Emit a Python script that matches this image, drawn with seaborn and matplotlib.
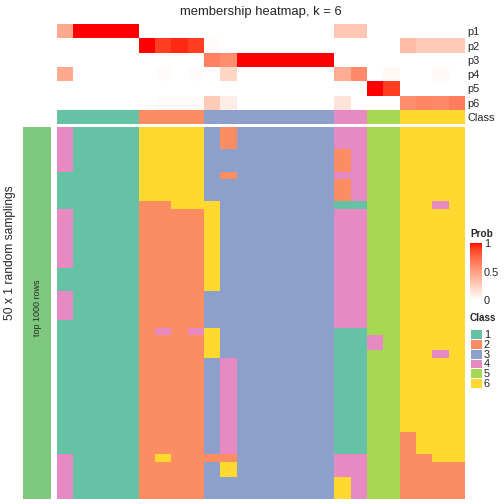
import numpy as np
import pandas as pd
import matplotlib
matplotlib.use("Agg")
import matplotlib.pyplot as plt
from matplotlib.colors import ListedColormap
import seaborn as sns

sns.set_style("white")
plt.rcParams['font.family'] = ['Liberation Sans', 'DejaVu Sans']

# ---------------- data ----------------
samples = [f"s{i+1}" for i in range(25)]
prob_rows = ["p1", "p2", "p3", "p4", "p5", "p6"]
p1 = [0.45, 1, 1, 1, 1, 0, 0, 0, 0, 0, 0, 0, 0, 0, 0, 0, 0, 0.3, 0.3, 0, 0, 0, 0, 0, 0]
p2 = [0, 0, 0, 0, 0, 1, 0.9, 0.95, 0.9, 0.02, 0, 0, 0, 0, 0, 0, 0, 0, 0, 0, 0, 0.35, 0.28, 0.28, 0.28]
p3 = [0, 0, 0, 0, 0, 0, 0, 0, 0, 0.64, 0.58, 1, 1, 1, 1, 1, 1, 0, 0, 0, 0, 0, 0, 0, 0]
p4 = [0.45, 0, 0, 0, 0, 0, 0.02, 0, 0.02, 0, 0.22, 0, 0, 0, 0, 0, 0, 0.43, 0.6, 0, 0.04, 0, 0, 0.03, 0]
p5 = [0, 0, 0, 0, 0, 0, 0, 0, 0, 0, 0, 0, 0, 0, 0, 0, 0, 0, 0, 1, 0.9, 0, 0, 0, 0]
p6 = [0, 0, 0, 0, 0, 0, 0.02, 0.02, 0.02, 0.28, 0.1, 0, 0, 0, 0, 0, 0, 0.15, 0, 0, 0, 0.58, 0.62, 0.6, 0.66]
sample_class = [1, 1, 1, 1, 1, 2, 2, 2, 2, 3, 3, 3, 3, 3, 3, 3, 3, 4, 4, 5, 5, 6, 6, 6, 6]
class_labels = ["1", "2", "3", "4", "5", "6"]

# class assignment in each of the 50 random samplings (one digit per sample)
samplings = [
    "4111166663233333344556666",
    "4111166663233333344556666",
    "4111166663233333344556666",
    "4111166663333333324556666",
    "4111166663333333324556666",
    "4111166663333333324556666",
    "1111166663233333344556666",
    "1111166663333333324556666",
    "1111166663333333324556666",
    "1111166663333333324556666",
    "1111122666333333311556646",
    "4111122226333333344556666",
    "4111122226333333344556666",
    "4111122226333333344556666",
    "4111122226333333344556666",
    "4111122226333333344556666",
    "4111122226333333344556666",
    "4111122226333333344556666",
    "4111122226333333344556666",
    "1111122226333333344556666",
    "1111122226333333344556666",
    "1111122226333333344556666",
    "4111122223333333344556666",
    "4111122223333333344556666",
    "4111122223333333344556666",
    "4111122223333333344556666",
    "1111122223333333344556666",
    "1111124246333333311556666",
    "1111122226333333311456666",
    "1111122226333333311456666",
    "1111122226333333311556646",
    "1111122223433333311556666",
    "1111122223433333311556666",
    "1111122223433333311556666",
    "1111122223433333311556666",
    "1111122223433333311556666",
    "1111122223433333311556666",
    "1111122223433333311556666",
    "1111122223433333311556666",
    "1111122223433333311556666",
    "1111122223433333311556666",
    "1111122223433333311552666",
    "1111122223433333311552666",
    "1111122223433333311552666",
    "4111126222233333344552266",
    "4111122223633333344552222",
    "4111122223633333344552222",
    "4111122223333333364552222",
    "4111122223333333364552222",
    "4111122223333333364552222",
]

# ---------------- colours ----------------
class_colors = ["#66C2A5", "#FC8D62", "#8DA0CB", "#E78AC3", "#A6D854", "#FFD92F"]
class_cmap = ListedColormap(class_colors)
bar_color = "#7FC97F"


def srgb_to_lab(rgb):
    rgb = np.asarray(rgb, float)
    lin = np.where(rgb <= 0.04045, rgb / 12.92, ((rgb + 0.055) / 1.055) ** 2.4)
    M = np.array([[0.4124, 0.3576, 0.1805], [0.2126, 0.7152, 0.0722], [0.0193, 0.1192, 0.9505]])
    xyz = M @ lin / np.array([0.95047, 1.0, 1.08883])
    f = np.where(xyz > 0.008856, np.cbrt(xyz), 7.787 * xyz + 16 / 116)
    return np.array([116 * f[1] - 16, 500 * (f[0] - f[1]), 200 * (f[1] - f[2])])


def lab_to_srgb(lab):
    L, a, b = lab
    fy = (L + 16) / 116
    fx = fy + a / 500
    fz = fy - b / 200
    f = np.array([fx, fy, fz])
    xyz = np.where(f ** 3 > 0.008856, f ** 3, (f - 16 / 116) / 7.787) * np.array([0.95047, 1.0, 1.08883])
    Mi = np.array([[3.2406, -1.5372, -0.4986], [-0.9689, 1.8758, 0.0415], [0.0557, -0.2040, 1.0570]])
    lin = np.clip(Mi @ xyz, 0, 1)
    return np.where(lin <= 0.0031308, 12.92 * lin, 1.055 * lin ** (1 / 2.4) - 0.055)


w_lab = srgb_to_lab([1, 1, 1])
r_lab = srgb_to_lab([1, 0, 0])
prob_cmap = ListedColormap([np.clip(lab_to_srgb(w_lab + t * (r_lab - w_lab)), 0, 1)
                            for t in np.linspace(0, 1, 256)])

# ---------------- layout ----------------
W = H = 504
fig = plt.figure(figsize=(7, 7), dpi=72)


def rect(x0, y0, x1, y1):
    return [x0 / W, 1 - y1 / H, (x1 - x0) / W, (y1 - y0) / H]


prob_df = pd.DataFrame([p1, p2, p3, p4, p5, p6], index=prob_rows, columns=samples)
class_df = pd.DataFrame([sample_class], index=["Class"], columns=samples)
main_df = pd.DataFrame([[int(ch) for ch in s] for s in samplings], columns=samples)

ax_top = fig.add_axes(rect(57, 24, 465, 110))
sns.heatmap(prob_df, cmap=prob_cmap, vmin=0, vmax=1, cbar=False, ax=ax_top,
            xticklabels=False, yticklabels=True)

ax_cls = fig.add_axes(rect(57, 110, 465, 124))
sns.heatmap(class_df, cmap=class_cmap, vmin=0.5, vmax=6.5, cbar=False, ax=ax_cls,
            xticklabels=False, yticklabels=True)

for ax in (ax_top, ax_cls):
    ax.yaxis.tick_right()
    ax.tick_params(axis="y", length=0, pad=2, labelsize=11, rotation=0)
    ax.set_xlabel("")
    ax.set_ylabel("")

ax_main = fig.add_axes(rect(57, 127, 465, 499))
sns.heatmap(main_df, cmap=class_cmap, vmin=0.5, vmax=6.5, cbar=False, ax=ax_main,
            xticklabels=False, yticklabels=False)

ax_left = fig.add_axes(rect(23, 127, 51, 499))
sns.heatmap(pd.DataFrame([[0]]), cmap=ListedColormap([bar_color]), cbar=False, ax=ax_left,
            xticklabels=False, yticklabels=False)
fig.text(37 / W, 1 - 308 / H, "top 1000 rows", rotation=90, ha="center", va="center", fontsize=9)
fig.text(10 / W, 1 - 253 / H, "50 x 1 random samplings", rotation=90, ha="center", va="center", fontsize=12)

fig.text(261 / W, 1 - 12 / H, "membership heatmap, k = 6", ha="center", va="center", fontsize=13)

# Prob colour bar
cax = fig.add_axes(rect(470, 243, 482, 300))
sm = plt.cm.ScalarMappable(cmap=prob_cmap, norm=plt.Normalize(0, 1))
cb = fig.colorbar(sm, cax=cax, ticks=[0, 0.5, 1])
cb.outline.set_visible(False)
cb.set_ticklabels(["0", "0.5", "1"])
cax.tick_params(length=2, direction="in", color="white", labelsize=11, pad=2)
fig.text(470 / W, 1 - 234 / H, "Prob", fontsize=10, fontweight="bold", ha="left", va="center")

# Class legend
ax_leg = fig.add_axes(rect(470, 329, 482, 388))
sns.heatmap(pd.DataFrame({"c": [1, 2, 3, 4, 5, 6]}, index=class_labels), cmap=class_cmap,
            vmin=0.5, vmax=6.5, cbar=False, ax=ax_leg, linewidths=1, linecolor="white",
            xticklabels=False, yticklabels=True)
ax_leg.yaxis.tick_right()
ax_leg.tick_params(axis="y", length=0, pad=2, labelsize=11, rotation=0)
ax_leg.set_ylabel("")
fig.text(470 / W, 1 - 318 / H, "Class", fontsize=10, fontweight="bold", ha="left", va="center")

fig.savefig("out.png", dpi=72)
